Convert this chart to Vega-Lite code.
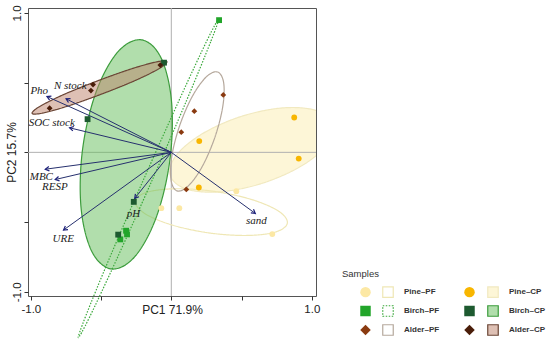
{
  "$schema": "https://vega.github.io/schema/vega-lite/v6.json",
  "width": 288,
  "height": 288,
  "autosize": {"type": "none"},
  "padding": {"left": 28, "top": 8, "right": 234, "bottom": 50},
  "background": "white",
  "config": {
    "view": {"stroke": "#555", "strokeWidth": 1},
    "axisX": {
      "grid": false, "domain": false, "tickSize": 4, "tickColor": "#333",
      "labelFont": "Liberation Sans", "labelFontSize": 11.5, "labelColor": "#222", "labelPadding": 3,
      "labelFlush": false, "labelOverlap": false,
      "titleFont": "Liberation Sans", "titleFontSize": 12, "titleFontWeight": "normal", "titleColor": "#222", "titlePadding": -10
    },
    "axisY": {
      "grid": false, "domain": false, "tickSize": 4, "tickColor": "#333",
      "labelAngle": -90, "labelAlign": "center", "labelBaseline": "bottom",
      "labelFont": "Liberation Sans", "labelFontSize": 11.5, "labelColor": "#222", "labelPadding": 1.5,
      "labelFlush": false, "labelOverlap": false,
      "titleFont": "Liberation Sans", "titleFontSize": 12, "titleFontWeight": "normal", "titleColor": "#222", "titlePadding": -7
    },
    "legend": {
      "labelFont": "Liberation Sans Narrow, Liberation Sans",
      "labelFontSize": 8,
      "labelFontWeight": "bold",
      "labelColor": "#333",
      "titleFont": "Liberation Sans",
      "titleFontSize": 9.5,
      "titleFontWeight": "normal",
      "titleColor": "#333",
      "symbolSize": 110,
      "rowPadding": 8,
      "columnPadding": 57,
      "labelOffset": 10,
      "padding": 0,
      "offset": 0
    }
  },
  "datasets": {
    "pts": [
      {"sample": "Pine-PF", "x": 0.463, "y": -0.279},
      {"sample": "Pine-PF", "x": -0.071, "y": -0.4},
      {"sample": "Pine-PF", "x": 0.057, "y": -0.4},
      {"sample": "Pine-PF", "x": 0.719, "y": -0.586},
      {"sample": "Pine-CP", "x": 0.875, "y": 0.25},
      {"sample": "Pine-CP", "x": 0.199, "y": 0.081},
      {"sample": "Pine-CP", "x": 0.907, "y": -0.045},
      {"sample": "Pine-CP", "x": 0.196, "y": -0.252},
      {"sample": "Birch-PF", "x": 0.34, "y": 0.948},
      {"sample": "Birch-PF", "x": -0.322, "y": -0.562},
      {"sample": "Birch-PF", "x": -0.315, "y": -0.588},
      {"sample": "Birch-PF", "x": -0.363, "y": -0.624},
      {"sample": "Birch-CP", "x": -0.052, "y": 0.643},
      {"sample": "Birch-CP", "x": -0.596, "y": 0.238},
      {"sample": "Birch-CP", "x": -0.267, "y": -0.355},
      {"sample": "Birch-CP", "x": -0.378, "y": -0.59},
      {"sample": "Alder-PF", "x": 0.37, "y": 0.412},
      {"sample": "Alder-PF", "x": 0.164, "y": 0.295},
      {"sample": "Alder-PF", "x": 0.071, "y": 0.145},
      {"sample": "Alder-PF", "x": 0.107, "y": -0.266},
      {"sample": "Alder-CP", "x": -0.078, "y": 0.626},
      {"sample": "Alder-CP", "x": -0.557, "y": 0.486},
      {"sample": "Alder-CP", "x": -0.572, "y": 0.443},
      {"sample": "Alder-CP", "x": -0.866, "y": 0.316}
    ],
    "arr": [
      {"var": "Pho", "x": -0.885, "y": 0.4, "lx": -0.94, "ly": 0.443},
      {"var": "N stock", "x": -0.749, "y": 0.384, "lx": -0.719, "ly": 0.479},
      {"var": "SOC stock", "x": -0.724, "y": 0.176, "lx": -0.851, "ly": 0.207},
      {"var": "MBC", "x": -0.897, "y": -0.121, "lx": -0.925, "ly": -0.179},
      {"var": "RESP", "x": -0.826, "y": -0.195, "lx": -0.829, "ly": -0.25},
      {"var": "URE", "x": -0.767, "y": -0.557, "lx": -0.769, "ly": -0.621},
      {"var": "pH", "x": -0.26, "y": -0.33, "lx": -0.27, "ly": -0.443},
      {"var": "sand", "x": 0.598, "y": -0.438, "lx": 0.605, "ly": -0.493}
    ],
    "ell": [
      {"group": "Pine–CP", "i": 0, "x": 1.152, "y": 0.204},
      {"group": "Pine–CP", "i": 1, "x": 1.112, "y": 0.059},
      {"group": "Pine–CP", "i": 2, "x": 0.929, "y": -0.096},
      {"group": "Pine–CP", "i": 3, "x": 0.65, "y": -0.221},
      {"group": "Pine–CP", "i": 4, "x": 0.349, "y": -0.283},
      {"group": "Pine–CP", "i": 5, "x": 0.11, "y": -0.264},
      {"group": "Pine–CP", "i": 6, "x": -0.006, "y": -0.169},
      {"group": "Pine–CP", "i": 7, "x": 0.033, "y": -0.024},
      {"group": "Pine–CP", "i": 8, "x": 0.217, "y": 0.131},
      {"group": "Pine–CP", "i": 9, "x": 0.496, "y": 0.257},
      {"group": "Pine–CP", "i": 10, "x": 0.796, "y": 0.319},
      {"group": "Pine–CP", "i": 11, "x": 1.036, "y": 0.299},
      {"group": "Pine–PF", "i": 0, "x": 0.826, "y": -0.507},
      {"group": "Pine–PF", "i": 1, "x": 0.742, "y": -0.571},
      {"group": "Pine–PF", "i": 2, "x": 0.537, "y": -0.596},
      {"group": "Pine–PF", "i": 3, "x": 0.263, "y": -0.577},
      {"group": "Pine–PF", "i": 4, "x": -0.004, "y": -0.518},
      {"group": "Pine–PF", "i": 5, "x": -0.194, "y": -0.435},
      {"group": "Pine–PF", "i": 6, "x": -0.256, "y": -0.35},
      {"group": "Pine–PF", "i": 7, "x": -0.173, "y": -0.286},
      {"group": "Pine–PF", "i": 8, "x": 0.033, "y": -0.261},
      {"group": "Pine–PF", "i": 9, "x": 0.306, "y": -0.28},
      {"group": "Pine–PF", "i": 10, "x": 0.574, "y": -0.339},
      {"group": "Pine–PF", "i": 11, "x": 0.764, "y": -0.422},
      {"group": "Birch–CP", "i": 0, "x": -0.2135, "y": 0.807},
      {"group": "Birch–CP", "i": 1, "x": -0.0726, "y": 0.677},
      {"group": "Birch–CP", "i": 2, "x": 0.002, "y": 0.361},
      {"group": "Birch–CP", "i": 3, "x": -0.01, "y": -0.055},
      {"group": "Birch–CP", "i": 4, "x": -0.105, "y": -0.46},
      {"group": "Birch–CP", "i": 5, "x": -0.258, "y": -0.746},
      {"group": "Birch–CP", "i": 6, "x": -0.427, "y": -0.836},
      {"group": "Birch–CP", "i": 7, "x": -0.568, "y": -0.706},
      {"group": "Birch–CP", "i": 8, "x": -0.643, "y": -0.39},
      {"group": "Birch–CP", "i": 9, "x": -0.631, "y": 0.026},
      {"group": "Birch–CP", "i": 10, "x": -0.536, "y": 0.431},
      {"group": "Birch–CP", "i": 11, "x": -0.383, "y": 0.717},
      {"group": "Alder–PF", "i": 0, "x": 0.33, "y": 0.576},
      {"group": "Alder–PF", "i": 1, "x": 0.373, "y": 0.497},
      {"group": "Alder–PF", "i": 2, "x": 0.366, "y": 0.326},
      {"group": "Alder–PF", "i": 3, "x": 0.31, "y": 0.107},
      {"group": "Alder–PF", "i": 4, "x": 0.221, "y": -0.1},
      {"group": "Alder–PF", "i": 5, "x": 0.122, "y": -0.24},
      {"group": "Alder–PF", "i": 6, "x": 0.04, "y": -0.276},
      {"group": "Alder–PF", "i": 7, "x": -0.002, "y": -0.197},
      {"group": "Alder–PF", "i": 8, "x": 0.004, "y": -0.026},
      {"group": "Alder–PF", "i": 9, "x": 0.06, "y": 0.193},
      {"group": "Alder–PF", "i": 10, "x": 0.149, "y": 0.4},
      {"group": "Alder–PF", "i": 11, "x": 0.248, "y": 0.54},
      {"group": "Birch–PF", "i": 0, "x": 0.335, "y": 0.95},
      {"group": "Birch–PF", "i": 1, "x": 0.28, "y": 0.792},
      {"group": "Birch–PF", "i": 2, "x": 0.108, "y": 0.37},
      {"group": "Birch–PF", "i": 3, "x": -0.137, "y": -0.201},
      {"group": "Birch–PF", "i": 4, "x": -0.39, "y": -0.769},
      {"group": "Birch–PF", "i": 5, "x": -0.582, "y": -1.182},
      {"group": "Birch–PF", "i": 6, "x": -0.662, "y": -1.329},
      {"group": "Birch–PF", "i": 7, "x": -0.608, "y": -1.171},
      {"group": "Birch–PF", "i": 8, "x": -0.436, "y": -0.749},
      {"group": "Birch–PF", "i": 9, "x": -0.19, "y": -0.178},
      {"group": "Birch–PF", "i": 10, "x": 0.063, "y": 0.39},
      {"group": "Birch–PF", "i": 11, "x": 0.255, "y": 0.804},
      {"group": "Alder–CP", "i": 0, "x": -0.031, "y": 0.65},
      {"group": "Alder–CP", "i": 1, "x": -0.086, "y": 0.601},
      {"group": "Alder–CP", "i": 2, "x": -0.255, "y": 0.516},
      {"group": "Alder–CP", "i": 3, "x": -0.493, "y": 0.419},
      {"group": "Alder–CP", "i": 4, "x": -0.736, "y": 0.332},
      {"group": "Alder–CP", "i": 5, "x": -0.918, "y": 0.281},
      {"group": "Alder–CP", "i": 6, "x": -0.991, "y": 0.28},
      {"group": "Alder–CP", "i": 7, "x": -0.936, "y": 0.329},
      {"group": "Alder–CP", "i": 8, "x": -0.767, "y": 0.414},
      {"group": "Alder–CP", "i": 9, "x": -0.529, "y": 0.511},
      {"group": "Alder–CP", "i": 10, "x": -0.286, "y": 0.598},
      {"group": "Alder–CP", "i": 11, "x": -0.103, "y": 0.649}
    ],
    "zero": [{"v": 0}]
  },
  "layer": [
    {
      "data": {"name": "ell"},
      "transform": [{"filter": "datum.group == 'Pine–CP'"}],
      "mark": {"type": "line", "interpolate": "cardinal-closed", "strokeWidth": 1.2, "clip": true},
      "encoding": {
        "x": {"field": "x", "type": "quantitative", "scale": {"domain": [-1.02, 1.03], "nice": false, "zero": false},
          "axis": {"values": [-1, -0.5, 0, 0.5, 1], "labelExpr": "datum.value == 1 ? '1.0' : (datum.value == -1 ? '-1.0' : '')", "title": "PC1 71.9%"}},
        "y": {"field": "y", "type": "quantitative", "scale": {"domain": [-1.03, 1.035], "nice": false, "zero": false},
          "axis": {"values": [-1, -0.5, 0, 0.5, 1], "labelExpr": "datum.value == 1 ? '1.0' : (datum.value == -1 ? '-1.0' : '')", "title": "PC2 15.7%"}},
        "order": {"field": "i", "type": "quantitative"},
        "fill": {
          "field": "group", "type": "nominal",
          "scale": {
            "domain": ["Pine–PF", "Pine–CP", "Birch–PF", "Birch–CP", "Alder–PF", "Alder–CP"],
            "range": ["rgba(255,255,255,0)", "rgba(248,228,140,0.35)", "rgba(255,255,255,0)", "rgba(100,190,90,0.5)", "rgba(255,255,255,0)", "rgba(190,130,105,0.5)"]
          },
          "legend": {"orient": "none", "legendX": 354, "legendY": 278, "columns": 2, "direction": "horizontal", "title": null, "symbolType": "square", "symbolStrokeWidth": 1.2, "rowPadding": 3, "columnPadding": 45}
        },
        "stroke": {
          "field": "group", "type": "nominal",
          "scale": {
            "domain": ["Pine–PF", "Pine–CP", "Birch–PF", "Birch–CP", "Alder–PF", "Alder–CP"],
            "range": ["#efe7b5", "#f1e9c0", "#3aa83a", "#3c9c3c", "#b5a89c", "#6a4535"]
          },
          "legend": {"orient": "none", "legendX": 354, "legendY": 278, "columns": 2, "direction": "horizontal", "title": null, "symbolType": "square", "symbolStrokeWidth": 1.2, "rowPadding": 3, "columnPadding": 45}
        },
        "strokeDash": {
          "field": "group", "type": "nominal",
          "scale": {
            "domain": ["Pine–PF", "Pine–CP", "Birch–PF", "Birch–CP", "Alder–PF", "Alder–CP"],
            "range": [[1, 0], [1, 0], [1.5, 1.5], [1, 0], [1, 0], [1, 0]]
          },
          "legend": {"orient": "none", "legendX": 354, "legendY": 278, "columns": 2, "direction": "horizontal", "title": null, "symbolType": "square", "symbolStrokeWidth": 1.2, "rowPadding": 3, "columnPadding": 45}
        }
      }
    },
    {
      "data": {"name": "zero"},
      "mark": {"type": "rule", "color": "#b0b0b0", "strokeWidth": 1},
      "encoding": {
        "x": {"field": "v", "type": "quantitative", "scale": {"domain": [-1.02, 1.03], "nice": false, "zero": false},
          "axis": {"values": [-1, -0.5, 0, 0.5, 1], "labelExpr": "datum.value == 1 ? '1.0' : (datum.value == -1 ? '-1.0' : '')", "title": "PC1 71.9%"}}
      }
    },
    {
      "data": {"name": "zero"},
      "mark": {"type": "rule", "color": "#b0b0b0", "strokeWidth": 1},
      "encoding": {
        "y": {"field": "v", "type": "quantitative", "scale": {"domain": [-1.03, 1.035], "nice": false, "zero": false},
          "axis": {"values": [-1, -0.5, 0, 0.5, 1], "labelExpr": "datum.value == 1 ? '1.0' : (datum.value == -1 ? '-1.0' : '')", "title": "PC2 15.7%"}}
      }
    },
    {
      "data": {"name": "ell"},
      "transform": [{"filter": "datum.group != 'Pine–CP'"}],
      "mark": {"type": "line", "interpolate": "cardinal-closed", "strokeWidth": 1.2},
      "encoding": {
        "x": {"field": "x", "type": "quantitative", "scale": {"domain": [-1.02, 1.03], "nice": false, "zero": false},
          "axis": {"values": [-1, -0.5, 0, 0.5, 1], "labelExpr": "datum.value == 1 ? '1.0' : (datum.value == -1 ? '-1.0' : '')", "title": "PC1 71.9%"}},
        "y": {"field": "y", "type": "quantitative", "scale": {"domain": [-1.03, 1.035], "nice": false, "zero": false},
          "axis": {"values": [-1, -0.5, 0, 0.5, 1], "labelExpr": "datum.value == 1 ? '1.0' : (datum.value == -1 ? '-1.0' : '')", "title": "PC2 15.7%"}},
        "order": {"field": "i", "type": "quantitative"},
        "fill": {
          "field": "group", "type": "nominal",
          "scale": {
            "domain": ["Pine–PF", "Pine–CP", "Birch–PF", "Birch–CP", "Alder–PF", "Alder–CP"],
            "range": ["rgba(255,255,255,0)", "rgba(248,228,140,0.35)", "rgba(255,255,255,0)", "rgba(100,190,90,0.5)", "rgba(255,255,255,0)", "rgba(190,130,105,0.5)"]
          },
          "legend": {"orient": "none", "legendX": 354, "legendY": 278, "columns": 2, "direction": "horizontal", "title": null, "symbolType": "square", "symbolStrokeWidth": 1.2, "rowPadding": 3, "columnPadding": 45}
        },
        "stroke": {
          "field": "group", "type": "nominal",
          "scale": {
            "domain": ["Pine–PF", "Pine–CP", "Birch–PF", "Birch–CP", "Alder–PF", "Alder–CP"],
            "range": ["#efe7b5", "#f1e9c0", "#3aa83a", "#3c9c3c", "#b5a89c", "#6a4535"]
          },
          "legend": {"orient": "none", "legendX": 354, "legendY": 278, "columns": 2, "direction": "horizontal", "title": null, "symbolType": "square", "symbolStrokeWidth": 1.2, "rowPadding": 3, "columnPadding": 45}
        },
        "strokeDash": {
          "field": "group", "type": "nominal",
          "scale": {
            "domain": ["Pine–PF", "Pine–CP", "Birch–PF", "Birch–CP", "Alder–PF", "Alder–CP"],
            "range": [[1, 0], [1, 0], [1.5, 1.5], [1, 0], [1, 0], [1, 0]]
          },
          "legend": {"orient": "none", "legendX": 354, "legendY": 278, "columns": 2, "direction": "horizontal", "title": null, "symbolType": "square", "symbolStrokeWidth": 1.2, "rowPadding": 3, "columnPadding": 45}
        }
      }
    },
    {
      "data": {"name": "arr"},
      "mark": {"type": "rule", "color": "#26306e", "strokeWidth": 1},
      "encoding": {
        "x": {"field": "x", "type": "quantitative", "scale": {"domain": [-1.02, 1.03], "nice": false, "zero": false},
          "axis": {"values": [-1, -0.5, 0, 0.5, 1], "labelExpr": "datum.value == 1 ? '1.0' : (datum.value == -1 ? '-1.0' : '')", "title": "PC1 71.9%"}},
        "y": {"field": "y", "type": "quantitative", "scale": {"domain": [-1.03, 1.035], "nice": false, "zero": false},
          "axis": {"values": [-1, -0.5, 0, 0.5, 1], "labelExpr": "datum.value == 1 ? '1.0' : (datum.value == -1 ? '-1.0' : '')", "title": "PC2 15.7%"}},
        "x2": {"datum": 0},
        "y2": {"datum": 0}
      }
    },
    {
      "data": {"name": "arr"},
      "transform": [{"calculate": "atan2(datum.x, datum.y) * 180 / PI", "as": "ang"}],
      "mark": {"type": "point", "shape": "M-0.577,1L0,0L0.577,1", "filled": false, "stroke": "#1c1f7a", "strokeWidth": 1.2, "size": 60, "opacity": 1},
      "encoding": {
        "x": {"field": "x", "type": "quantitative", "scale": {"domain": [-1.02, 1.03], "nice": false, "zero": false},
          "axis": {"values": [-1, -0.5, 0, 0.5, 1], "labelExpr": "datum.value == 1 ? '1.0' : (datum.value == -1 ? '-1.0' : '')", "title": "PC1 71.9%"}},
        "y": {"field": "y", "type": "quantitative", "scale": {"domain": [-1.03, 1.035], "nice": false, "zero": false},
          "axis": {"values": [-1, -0.5, 0, 0.5, 1], "labelExpr": "datum.value == 1 ? '1.0' : (datum.value == -1 ? '-1.0' : '')", "title": "PC2 15.7%"}},
        "angle": {"field": "ang", "type": "quantitative", "scale": null}
      }
    },
    {
      "data": {"name": "arr"},
      "mark": {"type": "text", "font": "Liberation Serif", "fontStyle": "italic", "fontSize": 11, "color": "#222", "align": "center", "baseline": "middle"},
      "encoding": {
        "x": {"field": "lx", "type": "quantitative", "scale": {"domain": [-1.02, 1.03], "nice": false, "zero": false},
          "axis": {"values": [-1, -0.5, 0, 0.5, 1], "labelExpr": "datum.value == 1 ? '1.0' : (datum.value == -1 ? '-1.0' : '')", "title": "PC1 71.9%"}},
        "y": {"field": "ly", "type": "quantitative", "scale": {"domain": [-1.03, 1.035], "nice": false, "zero": false},
          "axis": {"values": [-1, -0.5, 0, 0.5, 1], "labelExpr": "datum.value == 1 ? '1.0' : (datum.value == -1 ? '-1.0' : '')", "title": "PC2 15.7%"}},
        "text": {"field": "var", "type": "nominal"}
      }
    },
    {
      "data": {"name": "pts"},
      "mark": {"type": "point", "filled": true, "size": 34, "opacity": 1, "strokeWidth": 0},
      "encoding": {
        "x": {"field": "x", "type": "quantitative", "scale": {"domain": [-1.02, 1.03], "nice": false, "zero": false},
          "axis": {"values": [-1, -0.5, 0, 0.5, 1], "labelExpr": "datum.value == 1 ? '1.0' : (datum.value == -1 ? '-1.0' : '')", "title": "PC1 71.9%"}},
        "y": {"field": "y", "type": "quantitative", "scale": {"domain": [-1.03, 1.035], "nice": false, "zero": false},
          "axis": {"values": [-1, -0.5, 0, 0.5, 1], "labelExpr": "datum.value == 1 ? '1.0' : (datum.value == -1 ? '-1.0' : '')", "title": "PC2 15.7%"}},
        "color": {
          "field": "sample", "type": "nominal",
          "scale": {"domain": ["Pine-PF", "Pine-CP", "Birch-PF", "Birch-CP", "Alder-PF", "Alder-CP"], "range": ["#fce8a4", "#f8b600", "#22a52a", "#1d5a30", "#8a3a10", "#4a1d09"]},
          "legend": {"orient": "none", "legendX": 314, "legendY": 261, "columns": 2, "direction": "horizontal", "title": "Samples", "labelExpr": "''", "symbolOffset": 18, "titlePadding": 8, "symbolStrokeWidth": 0, "columnPadding": 65}
        },
        "shape": {
          "field": "sample", "type": "nominal",
          "scale": {"domain": ["Pine-PF", "Pine-CP", "Birch-PF", "Birch-CP", "Alder-PF", "Alder-CP"], "range": ["circle", "circle", "square", "square", "diamond", "diamond"]},
          "legend": {"orient": "none", "legendX": 314, "legendY": 261, "columns": 2, "direction": "horizontal", "title": "Samples", "labelExpr": "''", "symbolOffset": 18, "titlePadding": 8, "symbolStrokeWidth": 0, "columnPadding": 65}
        }
      }
    }
  ]
}
